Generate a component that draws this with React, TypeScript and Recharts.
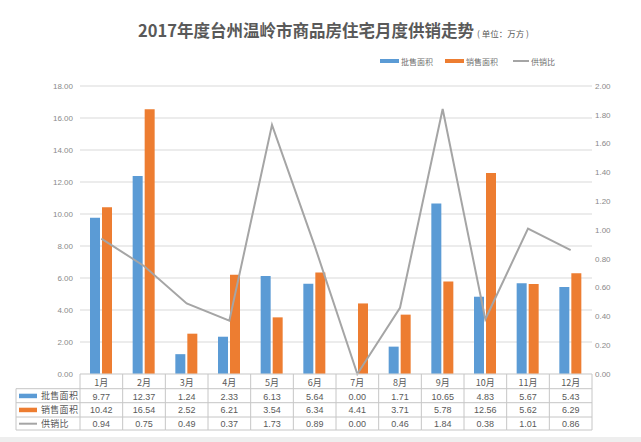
import React from 'react';
import { ComposedChart, Bar, Line, XAxis, YAxis, CartesianGrid } from 'recharts';

const months = ['1月', '2月', '3月', '4月', '5月', '6月', '7月', '8月', '9月', '10月', '11月', '12月'];
const wholesaleArea = [9.77, 12.37, 1.24, 2.33, 6.13, 5.64, 0.0, 1.71, 10.65, 4.83, 5.67, 5.43];
const salesArea = [10.42, 16.54, 2.52, 6.21, 3.54, 6.34, 4.41, 3.71, 5.78, 12.56, 5.62, 6.29];
const supplySalesRatio = [0.94, 0.75, 0.49, 0.37, 1.73, 0.89, 0.0, 0.46, 1.84, 0.38, 1.01, 0.86];
const leftTicks = [0, 2, 4, 6, 8, 10, 12, 14, 16, 18];
const rightTicks = [0, 0.2, 0.4, 0.6, 0.8, 1.0, 1.2, 1.4, 1.6, 1.8, 2.0];
const seriesNames = ['批售面积', '销售面积', '供销比'];
const titleText = '2017年度台州温岭市商品房住宅月度供销走势';
const unitText = '( 单位：万方 )';

const BLUE = '#5B9BD5';
const ORANGE = '#ED7D31';
const GRAY = '#A5A5A5';
const GRID = '#D9D9D9';
const TABLE_LINE = '#C6C6C6';
const AXIS_TEXT = '#8A8A8A';
const TABLE_TEXT = '#595959';
const FONT = '"Liberation Sans", "Noto Sans CJK SC", sans-serif';
const CJK = '"Noto Sans CJK SC", sans-serif';

const data = months.map((m, i) => ({
  month: m,
  wholesale: wholesaleArea[i],
  sales: salesArea[i],
  ratio: supplySalesRatio[i],
}));

const PLOT_LEFT = 80;
const PLOT_RIGHT = 592;
const CW = (PLOT_RIGHT - PLOT_LEFT) / months.length;

const rowY = [14.7, 28.7, 43, 56];
const seriesVals = [wholesaleArea, salesArea, supplySalesRatio];
const seriesColors = [BLUE, ORANGE, GRAY];

const TableTick = (props: any) => {
  const { x, y, payload } = props;
  const i = payload.index;
  const left = x - CW / 2;
  const right = x + CW / 2;
  return (
    <g>
      {rowY.map((ry, k) => (
        <line key={'h' + k} x1={left} x2={right} y1={y + ry} y2={y + ry} stroke={TABLE_LINE} strokeWidth={1} />
      ))}
      <line x1={right} x2={right} y1={y} y2={y + 56} stroke={TABLE_LINE} strokeWidth={1} />
      {i === 0 && <line x1={left} x2={left} y1={y} y2={y + 56} stroke={TABLE_LINE} strokeWidth={1} />}
      <text x={x} y={y + 12} textAnchor="middle" fontSize={9} fill={TABLE_TEXT} fontFamily={CJK}>
        {months[i]}
      </text>
      {seriesVals.map((vals, k) => (
        <text key={'v' + k} x={x} y={y + 25.5 + k * 13.5} textAnchor="middle" fontSize={9} fill={TABLE_TEXT} fontFamily={FONT}>
          {vals[i].toFixed(2)}
        </text>
      ))}
      {i === 0 && (
        <g>
          {rowY.map((ry, k) => (
            <line key={'lh' + k} x1={left - 64} x2={left} y1={y + ry} y2={y + ry} stroke={TABLE_LINE} strokeWidth={1} />
          ))}
          <line x1={left - 64} x2={left - 64} y1={y + rowY[0]} y2={y + 56} stroke={TABLE_LINE} strokeWidth={1} />
          {seriesNames.map((name, k) => {
            const cy = y + 21.7 + k * 14;
            return (
              <g key={'lg' + k}>
                {k < 2 ? (
                  <rect x={left - 61} y={cy - 2} width={18} height={4.5} fill={seriesColors[k]} />
                ) : (
                  <line x1={left - 61} x2={left - 43} y1={cy} y2={cy} stroke={GRAY} strokeWidth={2} />
                )}
                <text x={left - 39} y={cy + 3.3} fontSize={9} fill={TABLE_TEXT} fontFamily={CJK} letterSpacing={0.3}>
                  {name}
                </text>
              </g>
            );
          })}
        </g>
      )}
    </g>
  );
};

export default function App() {
  return (
    <div style={{ position: 'absolute', left: 0, top: 0, width: 641, height: 442, background: '#FFFFFF', overflow: 'hidden' }}>
      <div style={{ position: 'absolute', left: 0, top: 437, width: 641, height: 5, background: '#EEEEEE' }} />
      <div
        style={{
          position: 'absolute',
          left: 0,
          top: 18,
          width: 641,
          textAlign: 'center',
          whiteSpace: 'nowrap',
          fontFamily: CJK,
          color: '#595959',
          lineHeight: '24px',
        }}
      >
        <span style={{ fontSize: 16.5, fontWeight: 700, marginLeft: 26 }}>{titleText}</span>
        <span style={{ fontSize: 8.5, fontWeight: 400, marginLeft: 3 }}>{unitText}</span>
      </div>
      <div
        style={{
          position: 'absolute',
          left: 380,
          top: 54,
          height: 14,
          display: 'flex',
          alignItems: 'center',
          fontFamily: CJK,
          fontSize: 8,
          color: '#6E6E6E',
          whiteSpace: 'nowrap',
        }}
      >
        {seriesNames.map((n, k) => (
          <div key={n} style={{ display: 'flex', alignItems: 'center', marginRight: k === 0 ? 12 : k === 1 ? 15 : 0 }}>
            {k < 2 ? (
              <div style={{ width: 19, height: 4, background: seriesColors[k], marginRight: 2 }} />
            ) : (
              <div style={{ width: 16, height: 2, background: GRAY, marginRight: 2 }} />
            )}
            <span>{n}</span>
          </div>
        ))}
      </div>
      <div style={{ position: 'absolute', left: 0, top: 0 }}>
        <ComposedChart
          width={641}
          height={442}
          data={data}
          margin={{ top: 86, right: 0, bottom: 0, left: 0 }}
          barSize={10}
          barGap={2}
        >
          <CartesianGrid vertical={false} stroke={GRID} yAxisId="left" />
          <XAxis
            dataKey="month"
            height={68}
            interval={0}
            tickLine={false}
            tickSize={0}
            tickMargin={0}
            axisLine={{ stroke: GRID }}
            tick={<TableTick />}
          />
          <YAxis
            yAxisId="left"
            width={80}
            domain={[0, 18]}
            ticks={leftTicks}
            tickFormatter={(v: number) => v.toFixed(2)}
            axisLine={false}
            tickLine={false}
            tickSize={0}
            tickMargin={7}
            tick={{ fontSize: 8, fill: AXIS_TEXT, fontFamily: FONT }}
          />
          <YAxis
            yAxisId="right"
            orientation="right"
            width={49}
            domain={[0, 2]}
            ticks={rightTicks}
            tickFormatter={(v: number) => v.toFixed(2)}
            axisLine={false}
            tickLine={false}
            tickSize={0}
            tickMargin={3}
            tick={{ fontSize: 8, fill: AXIS_TEXT, fontFamily: FONT, textAnchor: 'start' }}
          />
          <Bar yAxisId="left" dataKey="wholesale" name={seriesNames[0]} fill={BLUE} isAnimationActive={false} />
          <Bar yAxisId="left" dataKey="sales" name={seriesNames[1]} fill={ORANGE} isAnimationActive={false} />
          <Line
            yAxisId="right"
            dataKey="ratio"
            name={seriesNames[2]}
            stroke={GRAY}
            strokeWidth={2}
            dot={false}
            type="linear"
            isAnimationActive={false}
          />
        </ComposedChart>
      </div>
    </div>
  );
}
